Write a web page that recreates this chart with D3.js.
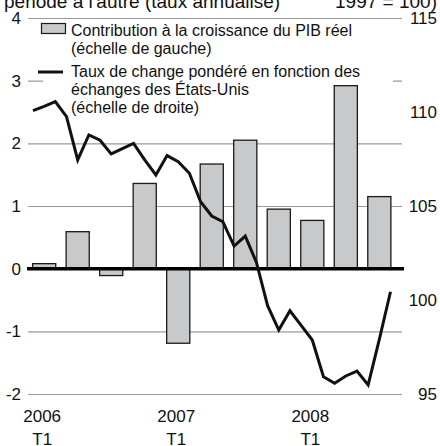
<!DOCTYPE html>
<html><head><meta charset="utf-8">
<script src="https://cdn.jsdelivr.net/npm/d3@7"></script>
<style>body{margin:0;background:#fff}svg{display:block;font-family:"Liberation Sans",Arial,Helvetica,sans-serif}</style>
</head><body><svg id="c" width="440" height="446"></svg>
<script>
// ---- data ----
const quarters = ["2006T1","2006T2","2006T3","2006T4","2007T1","2007T2","2007T3","2007T4","2008T1","2008T2","2008T3"];
const gdpContribution = [0.08, 0.59, -0.11, 1.36, -1.19, 1.67, 2.05, 0.95, 0.77, 2.92, 1.15];
const months = ["2006-01","2006-02","2006-03","2006-04","2006-05","2006-06","2006-07","2006-08","2006-09","2006-10","2006-11","2006-12",
                "2007-01","2007-02","2007-03","2007-04","2007-05","2007-06","2007-07","2007-08","2007-09","2007-10","2007-11","2007-12",
                "2008-01","2008-02","2008-03","2008-04","2008-05","2008-06","2008-07","2008-08","2008-09"];
const exchangeRate = [110.07, 110.3, 110.55, 109.75, 107.45, 108.78, 108.5, 107.77, 108.05, 108.33, 107.45, 106.65,
                      107.68, 107.36, 106.74, 105.23, 104.47, 104.16, 102.87, 103.4, 102.0, 99.7, 98.4, 99.43,
                      98.65, 97.87, 95.92, 95.57, 95.96, 96.22, 95.48, 97.9, 100.44];
const leftTicks = [-2, -1, 0, 1, 2, 3, 4];
const rightTicks = [95, 100, 105, 110, 115];
const yearLabels = [["2006","T1"],["2007","T1"],["2008","T1"]];
const yearQuarterIndex = [0, 4, 8];
const titleLeft = "période à l'autre (taux annualisé)";
const titleRight = "1997 = 100)";
const legendBars = ["Contribution à la croissance du PIB réel", "(échelle de gauche)"];
const legendLine = ["Taux de change pondéré en fonction des", "échanges des États-Unis", "(échelle de droite)"];

// ---- layout ----
const svg = d3.select("#c");
const plotL = 28, plotR = 402, plotT = 18, plotB = 394;
const x = d3.scaleLinear().domain([0, months.length - 1]).range([33, 390.5]);
const yL = d3.scaleLinear().domain([-2, 4]).range([plotB, plotT]);
const yR = d3.scaleLinear().domain([95, 115]).range([plotB, plotT]);
const qCenter = i => x(3 * i + 1);
const barW = (x(3) - x(0)) * 0.69;

// title fragments (cut off at top)
svg.append("text").attr("x", 4).attr("y", 7.5).attr("font-size", 19).attr("fill", "#111").text(titleLeft);
svg.append("text").attr("x", 437).attr("y", 7.5).attr("text-anchor", "end").attr("font-size", 19).attr("fill", "#111").text(titleRight);

// gridlines + left axis
const gAx = svg.append("g").attr("transform", `translate(${plotL},0)`)
  .call(d3.axisLeft(yL).tickValues(leftTicks).tickSize(-(plotR - plotL)).tickPadding(7).tickFormat(d => String(d)));
gAx.select(".domain").remove();
gAx.selectAll("line").attr("stroke", "#9a9a9a").attr("stroke-width", 1.1);
gAx.selectAll("text").attr("font-size", 17).attr("fill", "#111").attr("font-family", "Liberation Sans, Arial, sans-serif");

// right axis labels
svg.append("g").selectAll("text").data(rightTicks).join("text")
  .attr("x", 437).attr("y", d => yR(d)).attr("dy", "0.35em").attr("text-anchor", "end")
  .attr("font-size", 17).attr("fill", "#111").text(d => d);

// legend background
svg.append("rect").attr("x", 43).attr("y", 20).attr("width", 350).attr("height", 104).attr("fill", "#fff");

// bars
svg.append("g").selectAll("rect").data(gdpContribution).join("rect")
  .attr("x", (d, i) => qCenter(i) - barW / 2)
  .attr("y", d => yL(Math.max(0, d)))
  .attr("width", barW)
  .attr("height", d => Math.abs(yL(d) - yL(0)))
  .attr("fill", "#c8c9cb").attr("stroke", "#1a1a1a").attr("stroke-width", 1.3);

// zero line
svg.append("line").attr("x1", 27).attr("x2", 404).attr("y1", yL(0)).attr("y2", yL(0))
  .attr("stroke", "#000").attr("stroke-width", 3.5);

// exchange-rate line
svg.append("path").datum(exchangeRate)
  .attr("d", d3.line().x((d, i) => x(i)).y(d => yR(d)))
  .attr("fill", "none").attr("stroke", "#111").attr("stroke-width", 3).attr("stroke-linejoin", "miter");

// legend
const lg = svg.append("g").attr("font-size", 16).attr("fill", "#111");
lg.append("rect").attr("x", 41.5).attr("y", 23.5).attr("width", 24).attr("height", 10)
  .attr("fill", "#c8c9cb").attr("stroke", "#1a1a1a").attr("stroke-width", 1.2);
lg.selectAll("text.b").data(legendBars).join("text").attr("class", "b")
  .attr("x", 71).attr("y", (d, i) => 36 + i * 18).text(d => d);
lg.append("line").attr("x1", 38).attr("x2", 63).attr("y1", 72).attr("y2", 72)
  .attr("stroke", "#111").attr("stroke-width", 3);
lg.selectAll("text.l").data(legendLine).join("text").attr("class", "l")
  .attr("x", 71).attr("y", (d, i) => 77 + i * 18).text(d => d);

// x labels
const xl = svg.append("g").attr("font-size", 17).attr("fill", "#111").attr("text-anchor", "middle");
yearLabels.forEach((lab, k) => {
  const cx = qCenter(yearQuarterIndex[k]) - 2;
  xl.append("text").attr("x", cx).attr("y", 422).text(lab[0]);
  xl.append("text").attr("x", cx).attr("y", 445).text(lab[1]);
});
</script></body></html>
